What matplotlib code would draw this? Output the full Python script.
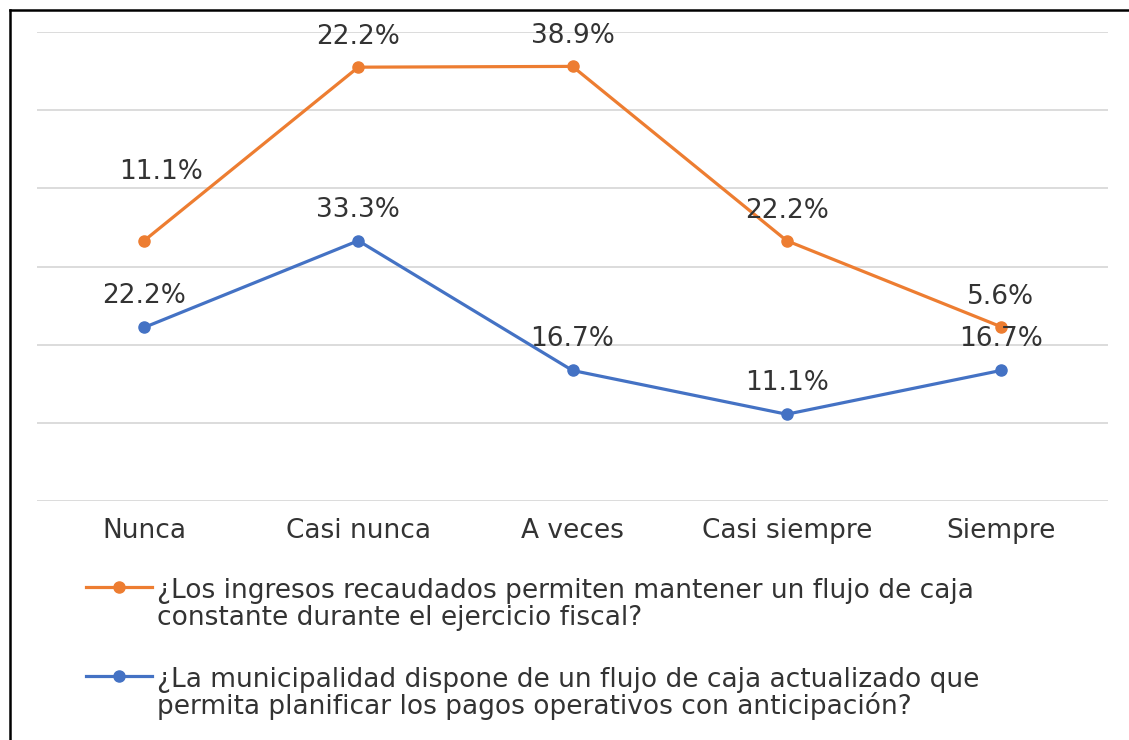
import numpy as np
import matplotlib.pyplot as plt
from matplotlib.lines import Line2D

plt.rcParams['font.family'] = ['DejaVu Sans']

categories = ["Nunca", "Casi nunca", "A veces", "Casi siempre", "Siempre"]
ingresos = [11.1, 22.2, 38.9, 22.2, 5.6]
municipalidad = [22.2, 33.3, 16.7, 11.1, 16.7]
label_ingresos = ["¿Los ingresos recaudados permiten mantener un flujo de caja",
                  "constante durante el ejercicio fiscal?"]
label_muni = ["¿La municipalidad dispone de un flujo de caja actualizado que",
              "permita planificar los pagos operativos con anticipación?"]

orange = "#ED7D31"
blue = "#4472C4"
text_color = "#333333"
fs = 19
W, H = 1129, 740

fig = plt.figure(figsize=(W / 100, H / 100), dpi=100)
ax = fig.add_axes([37 / W, 1 - 501 / H, 1071 / W, 469 / H])

x = np.arange(len(categories))
# stacked line chart: orange sits on top of blue
stacked = np.array(municipalidad) + np.array(ingresos)

ax.plot(x, municipalidad, color=blue, lw=2.3, marker="o", ms=8, zorder=3)
ax.plot(x, stacked, color=orange, lw=2.3, marker="o", ms=8, zorder=3)

for xi, yi, v in zip(x, municipalidad, municipalidad):
    ax.annotate(f"{v:.1f}%", (xi, yi), xytext=(0, 31), textcoords="offset pixels",
                ha="center", va="center", fontsize=fs, color=text_color)
for i, (xi, yi, v) in enumerate(zip(x, stacked, ingresos)):
    off = (17, 69) if i == 0 else (0, 30)
    ax.annotate(f"{v:.1f}%", (xi, yi), xytext=off, textcoords="offset pixels",
                ha="center", va="center", fontsize=fs, color=text_color)

ax.set_xlim(-0.5, len(categories) - 0.5)
ax.set_ylim(0, 60)
ax.set_yticks(np.arange(0, 61, 10))
ax.set_yticklabels([])
ax.grid(axis="y", color="#d9d9d9", lw=1.3)
ax.set_axisbelow(True)
ax.set_xticks(x)
ax.set_xticklabels(categories, fontsize=fs, color=text_color)
ax.tick_params(axis="both", length=0, pad=12)
for s in ax.spines.values():
    s.set_visible(False)

# legend drawn by hand so the marker sits on the first text line
for color, lines, y_handle, y_base in [(orange, label_ingresos, 587, 598),
                                       (blue, label_muni, 676, 687)]:
    fig.add_artist(Line2D([86 / W, 152 / W], [1 - y_handle / H] * 2, transform=fig.transFigure,
                          color=color, lw=2.3))
    fig.add_artist(Line2D([119 / W], [1 - y_handle / H], transform=fig.transFigure,
                          color=color, marker="o", ms=8))
    for k, line in enumerate(lines):
        fig.text(157 / W, 1 - (y_base + 27 * k) / H, line, fontsize=fs, color=text_color,
                 ha="left", va="baseline")

# outer frame (left and top edges visible)
fig.add_artist(Line2D([9.5 / W, 9.5 / W], [0, 1 - 10 / H], transform=fig.transFigure,
                      color="black", lw=1.8))
fig.add_artist(Line2D([9.5 / W, 1], [1 - 10 / H, 1 - 10 / H], transform=fig.transFigure,
                      color="black", lw=1.8))

fig.savefig("out.png", dpi=100)
plt.close(fig)
